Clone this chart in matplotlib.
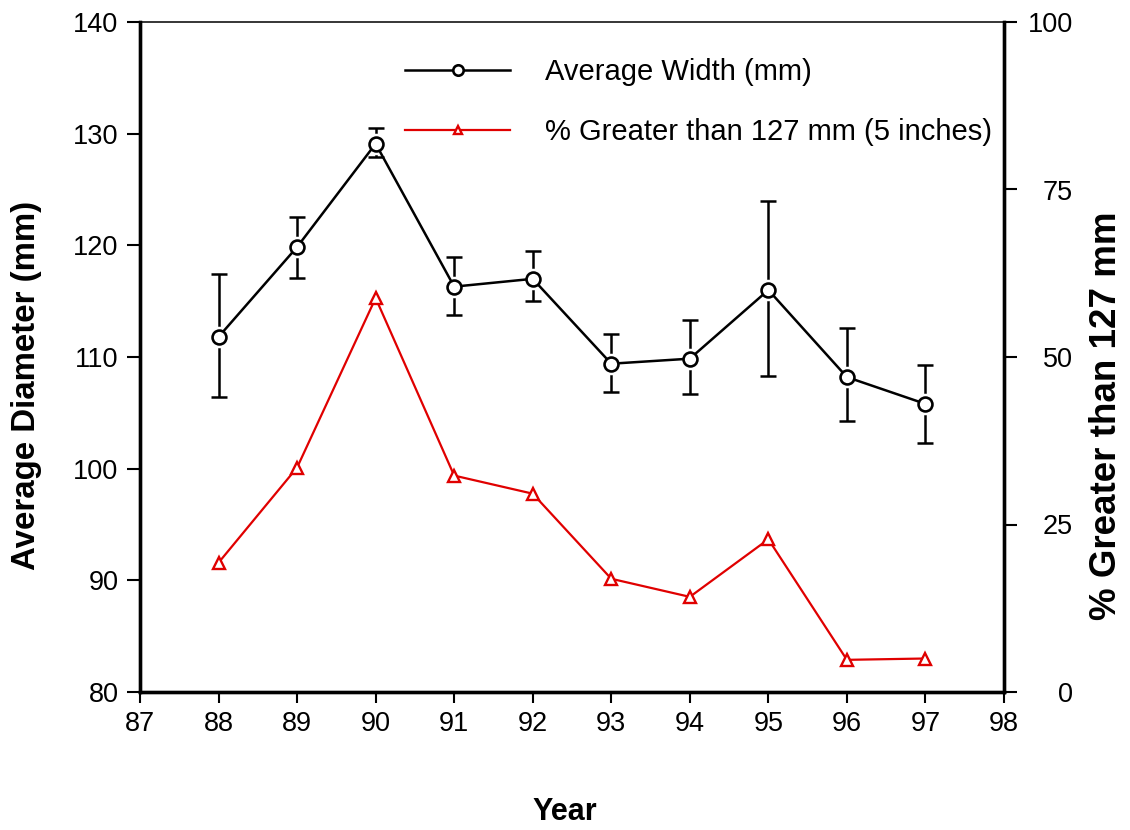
import numpy as np
import matplotlib
matplotlib.use("Agg")
import matplotlib.pyplot as plt

plt.rcParams['font.family'] = ['Liberation Sans', 'DejaVu Sans']

# data
years = [88, 89, 90, 91, 92, 93, 94, 95, 96, 97]
avg_width = [111.8, 119.85, 129.1, 116.3, 117.0, 109.4, 109.85, 116.0, 108.2, 105.8]
err_low = [5.4, 2.75, 1.2, 2.5, 2.0, 2.5, 3.15, 7.7, 3.9, 3.5]
err_high = [5.6, 2.65, 1.4, 2.7, 2.5, 2.7, 3.45, 8.0, 4.4, 3.5]
pct_greater = [19.3, 33.5, 58.8, 32.3, 29.6, 16.9, 14.2, 22.8, 4.8, 5.0]

fig = plt.figure(figsize=(11.3, 8.3), dpi=100)
ax = fig.add_axes([140/1130, 1 - 692/830, 864/1130, 670/830])
ax2 = ax.twinx()

# error bars first, then a white halo so the bars stop short of the circles
ax.errorbar(years, avg_width, yerr=[err_low, err_high], fmt='none', ecolor='black',
            elinewidth=1.8, capsize=6, capthick=1.8, zorder=1)
ax.plot(years, avg_width, linestyle='none', marker='o', markersize=14.5,
        markerfacecolor='white', markeredgecolor='white', zorder=2)
l1, = ax.plot(years, avg_width, color='black', linewidth=1.8, marker='o', markersize=10,
              markerfacecolor='white', markeredgecolor='black', markeredgewidth=1.9, zorder=3)

l2, = ax2.plot(years, pct_greater, color='#e00000', linewidth=1.6, marker='^', markersize=8,
               markerfacecolor='white', markeredgecolor='#e00000', markeredgewidth=1.7)

ax.set_xlim(87, 98)
ax.set_ylim(80, 140)
ax2.set_ylim(0, 100)
ax.set_xticks(range(87, 99))
ax.set_yticks(range(80, 141, 10))
ax2.set_yticks([0, 25, 50, 75, 100])

for a in (ax, ax2):
    for s in ('left', 'right', 'bottom'):
        a.spines[s].set_linewidth(2.4)
    a.spines['top'].set_linewidth(1.1)
ax2.spines['top'].set_visible(False)

ax.tick_params(axis='y', direction='out', length=9.5, width=1.5, labelsize=19.5, pad=6)
ax.tick_params(axis='x', direction='out', length=8, width=1.5, labelsize=19.5, pad=6)
ax2.tick_params(axis='y', direction='out', length=9.5, width=1.5, labelsize=19.5, pad=40)
for t in ax2.get_yticklabels():
    t.set_horizontalalignment('right')

fig.text(565/1130, 1 - 812/830, 'Year', fontsize=22, fontweight='bold',
         ha='center', va='center')
fig.text(27/1130, 1 - 385/830, 'Average Diameter (mm)', fontsize=23.8, fontweight='bold',
         rotation=90, ha='center', va='center')
fig.text(1106/1130, 1 - 416/830, '% Greater than 127 mm', fontsize=26.5, fontweight='bold',
         rotation=90, ha='center', va='center')

leg = ax2.legend([l1, l2], ['Average Width (mm)', '% Greater than 127 mm (5 inches)'],
                 loc='upper left', bbox_to_anchor=(405/1130, 1 - 58/830),
                 bbox_transform=fig.transFigure, frameon=False, fontsize=21,
                 borderpad=0, borderaxespad=0, handlelength=3.6, handletextpad=1.2,
                 labelspacing=1.11, markerscale=0.75)

fig.savefig('out.png', dpi=100)
